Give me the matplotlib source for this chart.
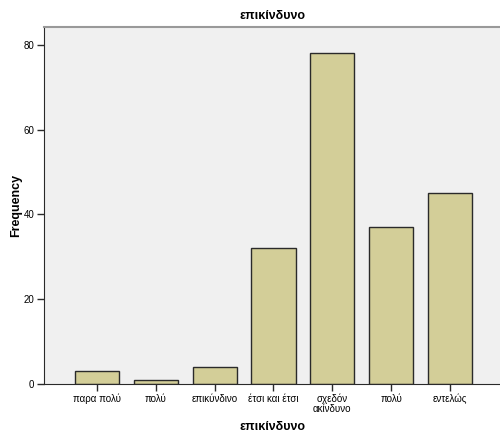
import matplotlib
matplotlib.use("Agg")
import matplotlib.pyplot as plt

categories = ["παρα πολύ", "πολύ", "επικύνδινο", "έτσι και έτσι", "σχεδόν\nακίνδυνο", "πολύ", "εντελώς"]
values = [3, 1, 4, 32, 78, 37, 45]
yticks = [0, 20, 40, 60, 80]

plt.rcParams['font.family'] = ['Liberation Sans', 'DejaVu Sans']

fig = plt.figure(figsize=(5.0, 4.42), dpi=100)
ax = fig.add_axes([0.088, 0.131, 0.912, 0.808])
ax.set_facecolor("#f0f0f0")

x = list(range(len(categories)))
ax.bar(x, values, width=0.75, color="#d3ce98", edgecolor="#2a2a2a", linewidth=1.0, zorder=2)

ax.set_xlim(-0.9, 6.85)
ax.set_ylim(0, 84.2)
ax.set_yticks(yticks)
ax.set_yticklabels([str(v) for v in yticks], fontsize=7)
ax.set_xticks(x)
ax.set_xticklabels(categories, fontsize=7, linespacing=0.95)
ax.tick_params(axis='both', direction='out', length=5, width=1, color="#2a2a2a", pad=2)

ax.spines['right'].set_visible(False)
ax.spines['top'].set_color("#999999")
ax.spines['top'].set_linewidth(1.5)
ax.spines['left'].set_color("#2a2a2a")
ax.spines['bottom'].set_color("#2a2a2a")

ax.set_title("επικίνδυνο", fontsize=9, fontweight='bold', pad=6)
ax.set_xlabel("επικίνδυνο", fontsize=9, fontweight='bold', labelpad=5)
ax.set_ylabel("Frequency", fontsize=9, fontweight='bold', labelpad=1)

fig.savefig("out.png", dpi=100)
